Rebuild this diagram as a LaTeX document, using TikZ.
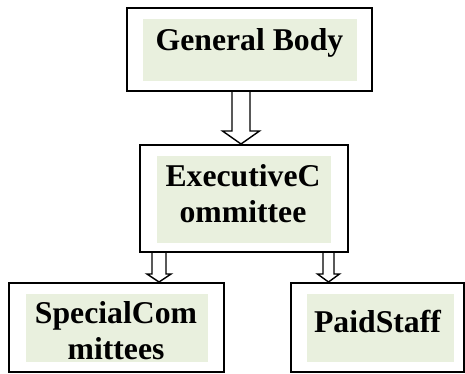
\documentclass[tikz,border=0pt]{standalone}
\usepackage{fontspec}
\setmainfont{Liberation Serif}
\usetikzlibrary{calc}
\definecolor{boxgreen}{RGB}{233,240,222}

% hollow block arrow pointing down: x-coordinate, from node, to node, half shaft, half head, head length
\newcommand{\blockdown}[6]{%
  \draw[hollow] ($(#1 |- #2.south)+(-#4,0)$) -- ($(#1 |- #3.north)+(-#4,-#6)$)
    -- ($(#1 |- #3.north)+(-#5,-#6)$) -- (#1 |- #3.north)
    -- ($(#1 |- #3.north)+(#5,-#6)$) -- ($(#1 |- #3.north)+(#4,-#6)$)
    -- ($(#1 |- #2.south)+(#4,0)$);}

\begin{document}
\begin{tikzpicture}[
        x=1pt, y=-1pt,
        hollow/.style={draw, line width=1.4pt, fill=white, line join=miter},
        outerbox/.style={draw, line width=2pt, rectangle, inner sep=0pt},
        greenbox/.style={fill=boxgreen, rectangle, inner sep=0pt},
        boxtext/.style={font=\fontsize{31.7}{36}\selectfont\bfseries, align=center, inner sep=0pt, anchor=base}]

        \useasboundingbox (0,0) rectangle (465,373);

        % outer frames
        \node[outerbox, minimum width=245pt, minimum height=83pt] (gb) at (249.5,49.5) {};
        \node[outerbox, minimum width=208pt, minimum height=107pt] (ec) at (244,198.5) {};
        \node[outerbox, minimum width=215pt, minimum height=89pt] (sc) at (116.5,327.5) {};
        \node[outerbox, minimum width=173pt, minimum height=89pt] (ps) at (377.5,327.5) {};

        % shaded text areas
        \node[greenbox, minimum width=214pt, minimum height=62pt] (gbfill) at (250,50) {};
        \node[greenbox, minimum width=174pt, minimum height=87pt] (ecfill) at (244,199.5) {};
        \node[greenbox, minimum width=182pt, minimum height=68pt] (scfill) at (117,328) {};
        \node[greenbox, minimum width=147pt, minimum height=68pt] (psfill) at (380.5,328) {};

        % labels
        \node[boxtext] (gbtext) at (249.5,50) {General Body};
        \node[boxtext] (ectext) at (243,222) {ExecutiveC\\ommittee};
        \node[boxtext] (sctext) at (116,359) {SpecialCom\\mittees};
        \node[boxtext] (pstext) at (377.5,332) {PaidStaff};

        % arrows
        \coordinate (xa) at (241,0);
        \coordinate (xb) at (159,0);
        \coordinate (xc) at (328.5,0);
        \blockdown{xa}{gb}{ec}{9}{18.5}{13}
        \blockdown{xb}{ec}{sc}{7}{12}{8}
        \blockdown{xc}{ec}{ps}{5.5}{11}{8}
    \end{tikzpicture}
\end{document}
